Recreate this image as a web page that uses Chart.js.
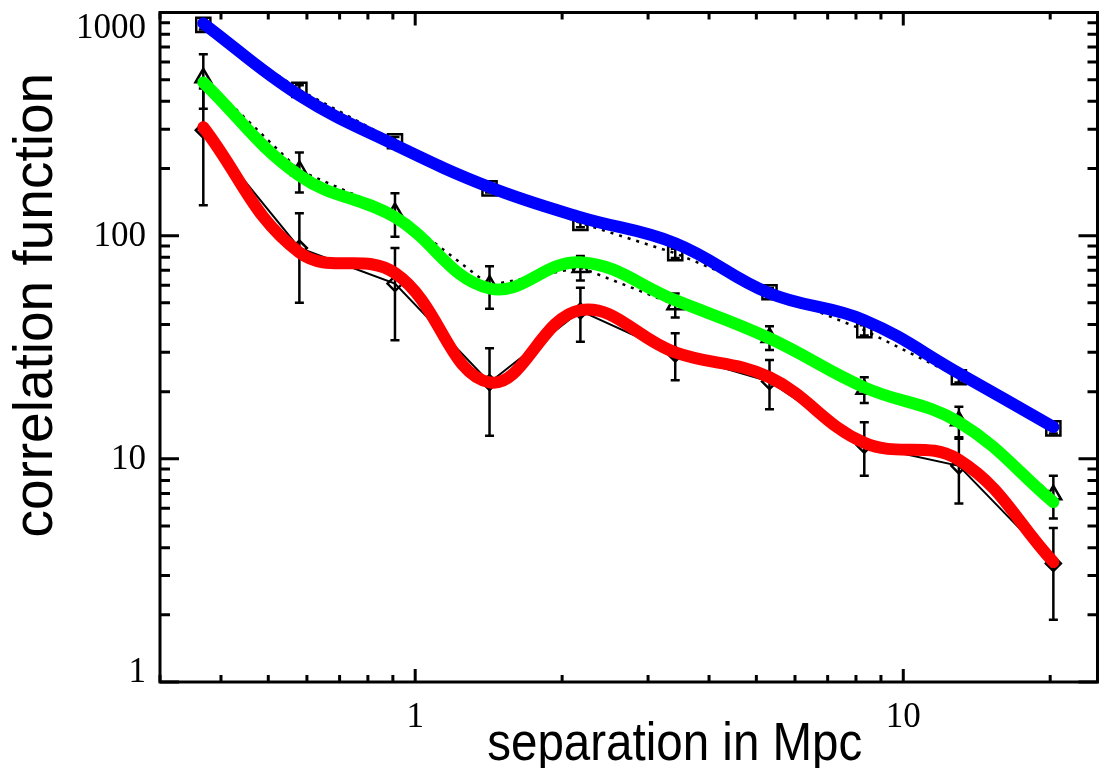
<!DOCTYPE html>
<html>
<head>
<meta charset="utf-8">
<script src="https://cdn.jsdelivr.net/npm/chart.js@4"></script>
<style>
  html, body { margin: 0; padding: 0; background: #fff; }
  #wrap { width: 1110px; height: 768px; position: relative; }
</style>
</head>
<body>
<div id="wrap"><canvas id="chart-corr"></canvas></div>
<script>
// separation bins (Mpc)
const separation = [0.368, 0.579, 0.909, 1.42, 2.18, 3.41, 5.32, 8.32, 13.0, 20.3];

// measured points (squares / triangles / diamonds) and their error bars
const squares = [880, 450, 265, 163, 114, 83.4, 55.8, 37.7, 23.2, 13.7];
const squareErr = [40, 22, 12, 7, 5, 4, 2.5, 2, 1.2, 0.7];
const triangles = [510, 196, 127, 60, 72, 49, 35, 20.5, 14.8, 6.9];
const triangleErr = [140, 40, 28, 13, 9, 6, 4.3, 2.7, 2.3, 1.5];
const diamonds = [297, 88, 61, 22, 46, 29.5, 22.2, 11.5, 9.3, 3.4];
const diamondErr = [160, 38, 27, 9.3, 12.5, 7, 5.5, 3.1, 3, 1.5];

// smooth model curves drawn over the points
const blueCurve = [893, 425, 255, 165, 121, 92.5, 55.2, 41.8, 24.2, 13.9];
const greenCurve = [486, 186, 121, 58, 76, 51.4, 34.7, 20.9, 14.6, 6.4];
const redCurve = [306, 84, 68, 22, 46.4, 30, 23.2, 11.8, 9.9, 3.45];

const yRange = [1, 1000];
const xRange = [0.3, 25];

const serif = "'Liberation Serif', 'DejaVu Serif', serif";
const sans = "'Liberation Sans', Arial, sans-serif";

function pts(ys) {
  return ys.map((y, i) => ({ x: separation[i], y: y }));
}

// one line dataset per symbol set: vertical bar from v-e to v+e, gap between bars
function errorBars(ys, errs) {
  const out = [];
  ys.forEach((y, i) => {
    out.push({ x: separation[i], y: y - errs[i] });
    out.push({ x: separation[i], y: y + errs[i] });
    out.push({ x: separation[i], y: null });
  });
  return out;
}

// 1..9 x 10^n tick marks, decades are major
function logTicks(min, max) {
  const out = [];
  for (let e = Math.floor(Math.log10(min)); e <= Math.ceil(Math.log10(max)); e++) {
    for (let s = 1; s <= 9; s++) {
      const v = s * Math.pow(10, e);
      if (v >= min * 0.999 && v <= max * 1.001) out.push({ value: v, major: s === 1 });
    }
  }
  return out;
}

function isDecade(v) {
  const l = Math.log10(v);
  return Math.abs(l - Math.round(l)) < 1e-9;
}

function curve(data, color) {
  return {
    data: pts(data),
    borderColor: color,
    borderWidth: 12,
    borderCapStyle: "round",
    pointRadius: 0,
    tension: 0.4,
    order: 0,
  };
}

function symbols(data, style, radius, dash) {
  return {
    data: pts(data),
    borderColor: "#000",
    borderWidth: dash ? 2.5 : 2,
    borderDash: dash ? [3, 6] : [],
    pointStyle: style,
    pointRadius: radius,
    pointBorderColor: "#000",
    pointBorderWidth: 2.5,
    pointBackgroundColor: "rgba(0,0,0,0)",
    tension: 0,
    order: 2,
  };
}

function bars(data, errs) {
  return {
    data: errorBars(data, errs),
    borderColor: "#000",
    borderWidth: 2.5,
    pointStyle: "line",
    pointRadius: 4.5,
    pointBorderColor: "#000",
    pointBorderWidth: 2.5,
    spanGaps: false,
    order: 1,
  };
}

// box round the plot with inward ticks on all four sides, y labels kept
// inside the frame height, plus the axis titles
const framePlugin = {
  id: "frame",
  afterDatasetsDraw(chart) {
    const { ctx, chartArea: a, scales } = chart;
    const x = scales.x, y = scales.y;
    ctx.save();
    ctx.strokeStyle = "#000";
    ctx.lineWidth = 3;
    ctx.strokeRect(a.left, a.top, a.right - a.left, a.bottom - a.top);
    ctx.beginPath();
    x.ticks.forEach((t) => {
      const px = x.getPixelForValue(t.value);
      const len = t.major ? 13 : 7;
      ctx.moveTo(px, a.bottom);
      ctx.lineTo(px, a.bottom - len);
      ctx.moveTo(px, a.top);
      ctx.lineTo(px, a.top + len);
    });
    y.ticks.forEach((t) => {
      const py = y.getPixelForValue(t.value);
      const len = t.major ? 19 : 10;
      ctx.moveTo(a.left, py);
      ctx.lineTo(a.left + len, py);
      ctx.moveTo(a.right, py);
      ctx.lineTo(a.right - len, py);
    });
    ctx.stroke();

    ctx.fillStyle = "#000";
    ctx.font = "35px " + serif;
    ctx.textAlign = "right";
    ctx.textBaseline = "middle";
    y.ticks.forEach((t) => {
      if (!t.major) return;
      const py = y.getPixelForValue(t.value);
      const cy = Math.min(Math.max(py, a.top + 15), a.bottom - 10);
      ctx.fillText(String(Math.round(t.value)), a.left - 14, cy + 1);
    });
    ctx.restore();

    // x title is a little narrower than the plain sans face, squeeze it
    ctx.save();
    ctx.fillStyle = "#000";
    ctx.font = "54px " + sans;
    ctx.textAlign = "center";
    ctx.textBaseline = "alphabetic";
    ctx.translate((a.left + a.right) / 2 + 46, chart.height - 8);
    ctx.scale(0.88, 1);
    ctx.fillText("separation in Mpc", 0, 0);
    ctx.restore();

    ctx.save();
    ctx.fillStyle = "#000";
    ctx.font = "55px " + sans;
    ctx.textAlign = "center";
    ctx.textBaseline = "alphabetic";
    ctx.translate(52, (a.top + a.bottom) / 2 - 42);
    ctx.rotate(-Math.PI / 2);
    ctx.fillText("correlation function", 0, 0);
    ctx.restore();
  },
};

document.addEventListener("DOMContentLoaded", function () {
  const ctx = document.getElementById("chart-corr").getContext("2d");
  new Chart(ctx, {
    type: "line",
    data: {
      datasets: [
        curve(blueCurve, "#0000ff"),
        curve(greenCurve, "#00ff00"),
        curve(redCurve, "#ff0000"),
        bars(squares, squareErr),
        bars(triangles, triangleErr),
        bars(diamonds, diamondErr),
        symbols(squares, "rect", 10, true),
        symbols(triangles, "triangle", 9, true),
        symbols(diamonds, "rectRot", 7.5, false),
      ],
    },
    options: {
      responsive: true,
      maintainAspectRatio: false,
      animation: false,
      events: [],
      layout: { padding: { top: 12, right: 8, left: 0, bottom: 0 } },
      plugins: {
        legend: { display: false },
        tooltip: { enabled: false },
      },
      scales: {
        x: {
          type: "logarithmic",
          position: "bottom",
          min: xRange[0],
          max: xRange[1],
          afterBuildTicks: (s) => { s.ticks = logTicks(xRange[0], xRange[1]); },
          afterFit: (s) => { s.height = 86; s.paddingLeft = 0; s.paddingRight = 0; },
          grid: { display: false, drawTicks: false },
          border: { display: false },
          ticks: {
            autoSkip: false,
            maxRotation: 0,
            padding: 15,
            color: "#000",
            font: { family: serif, size: 35 },
            callback: (v) => (isDecade(v) ? String(Math.round(v)) : ""),
          },
        },
        y: {
          type: "logarithmic",
          position: "left",
          min: yRange[0],
          max: yRange[1],
          afterBuildTicks: (s) => { s.ticks = logTicks(yRange[0], yRange[1]); },
          afterFit: (s) => { s.width = 160; s.paddingTop = 0; s.paddingBottom = 0; },
          grid: { display: false, drawTicks: false },
          border: { display: false },
          // labels are drawn by the frame plugin so the end ones stay on canvas
          ticks: { display: false, autoSkip: false },
        },
      },
    },
    plugins: [framePlugin],
  });
});
</script>
</body>
</html>
